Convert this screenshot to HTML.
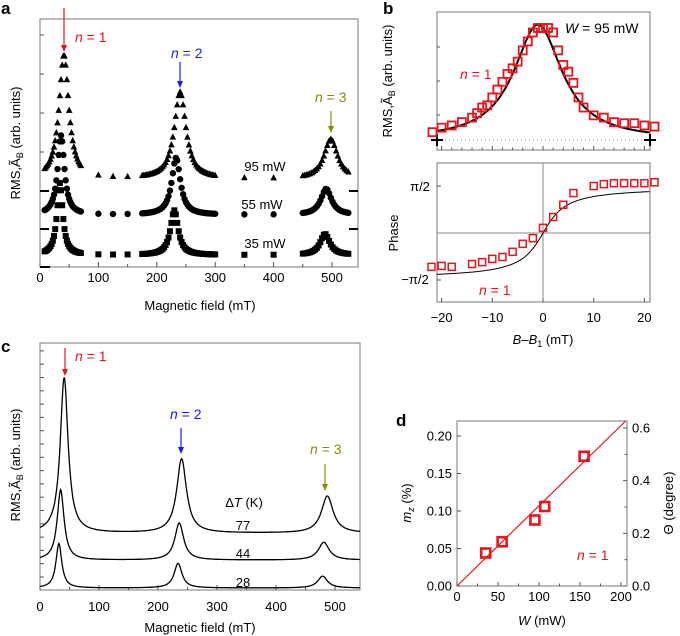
<!DOCTYPE html>
<html><head><meta charset="utf-8">
<style>
html,body{margin:0;padding:0;background:#fff;}
svg{display:block;font-family:"Liberation Sans",Arial,sans-serif;}
text{font-family:"Liberation Sans",Arial,sans-serif;}
</style></head>
<body>
<svg id="fig" width="680" height="636" viewBox="0 0 680 636" xmlns="http://www.w3.org/2000/svg">
<g font-weight="bold" font-size="17">
<text x="1" y="14">a</text>
<text x="383" y="14">b</text>
<text x="1" y="352">c</text>
<text x="396" y="426">d</text>
</g>
</svg>
<script>
// ---------- Panel a data ----------
const aSeriesNames = ["95 mW","55 mW","35 mW"];
const aBaselines = [35.5, 21, 4.8];
const aPeakCenters = [[41,240,498],[36,233,490],[34,230,488]];
const aPeakHeights = [[50,35,16],[32,23,10.5],[29,18,8.5]];
const aPeakWidths = [[10,12,14],[7,9,11],[6,8,10]];
const aFieldRanges = [[8,70,2],[100,150,25],[175,300,2.5],[350,400,50],[450,530,3]];
const aXTicks = [0,100,200,300,400,500];
// ---------- Panel b data ----------
const bFieldAmp = [-21.8,-20,-18,-16,-14,-13,-12,-11,-10,-9,-8,-7,-6,-5,-4,-3,-2,-1,0,1,2,3,4,5,6,7,8,10,12,14,16,18,20,22];
const bAmp = [0.07,0.11,0.13,0.16,0.2,0.24,0.29,0.31,0.38,0.45,0.52,0.59,0.64,0.7,0.8,0.88,0.96,1.0,1.0,1.0,0.96,0.8,0.67,0.61,0.51,0.38,0.29,0.22,0.2,0.16,0.15,0.15,0.13,0.12];
const bAmpFit = {center:-1, width:5.8};
const bFieldPhase = [-22,-20,-18,-14,-12,-10,-8,-6,-4,-2,0,2,4,6,10,12,14,16,18,20,22];
const bPhase = [-0.72,-0.7,-0.72,-0.66,-0.62,-0.55,-0.51,-0.4,-0.23,-0.11,0.11,0.34,0.6,0.85,1.0,1.04,1.06,1.06,1.06,1.06,1.08];
const bPhaseFit = {center:0, width:3.4};
const bXTicks = [-20,-10,0,10,20];
// ---------- Panel c data ----------
const cSeriesNames = ["77","44","28"];
const cBaselines = [23, 12.1, 0.8];
const cPeakCenters = [[41,240,487],[35,236,481],[32,234,479]];
const cPeakHeights = [[63,30,15],[28.5,15,7.2],[18,10,4.8]];
const cPeakWidths = [[8,10,12],[7,9,11],[6,8,10]];
const cXTicks = [0,100,200,300,400,500];
// ---------- Panel d data ----------
const dPower = [35,55,95,107,155];
const dMz = [0.044,0.059,0.088,0.106,0.173];
const dSlope = [0.00107];
const dYTicks = [0,0.05,0.10,0.15,0.20];
const dY2Ticks = [0,0.2,0.4,0.6];
const dXTicks = [0,50,100,150,200];

const NS="http://www.w3.org/2000/svg";
const svg=document.getElementById('fig');
function mk(tag,attrs,parent){const e=document.createElementNS(NS,tag);for(const k in attrs)e.setAttribute(k,attrs[k]);(parent||svg).appendChild(e);return e;}
function grp(name){const g=mk('g',{});


return g;}
function txt(p,x,y,s,size,anchor,fill,name){const t=mk('text',{x:x,y:y,'font-size':size||13,'text-anchor':anchor||'middle',fill:fill||'#000'},p);t.textContent=s;


return t;}
function lorentz(x,c,h,w){return h/(1+((x-c)/w)*((x-c)/w));}
function arrow(p,x,y1,y2,col,name){const g=mk('g',{},p);


mk('line',{x1:x,y1:y1,x2:x,y2:y2-5,stroke:col,'stroke-width':1.2},g);
mk('path',{d:`M${x-3},${y2-7}L${x+3},${y2-7}L${x},${y2}Z`,fill:col},g);}
function nlabel(p,x,y,num,col,name){const t=mk('text',{x:x,y:y,'font-size':14,fill:col},p);


const a=mk('tspan',{'font-style':'italic'},t);a.textContent='n';const b=mk('tspan',{},t);b.textContent=' = '+num;}
function ytitle(p,x,y,name){const t=mk('text',{x:0,y:0,'font-size':13,'text-anchor':'middle',transform:`translate(${x},${y}) rotate(-90)`},p);


const a=mk('tspan',{},t);a.textContent='RMS,';const b=mk('tspan',{},t);b.textContent='Ã';const c=mk('tspan',{'font-size':9,dy:3},t);c.textContent='B';const d=mk('tspan',{dy:-3},t);d.textContent=' (arb. units)';}

// ================= Panel a =================
(function(){
const g=grp('panel-a-chart');
const L=40,R=358,T=19,B=267;
const xs=v=>L+v*0.584, ys=v=>B-v*2.48;
mk('rect',{x:L,y:T,width:R-L,height:B-T,fill:'none',stroke:'#777','stroke-width':1},g);
aXTicks.forEach(v=>{mk('line',{x1:xs(v),y1:B,x2:xs(v),y2:B-5,stroke:'#555'},g);txt(g,xs(v),282,String(v),13,'middle','#000','x-tick-label-a');});
[50,150,250,350,450].forEach(v=>mk('line',{x1:xs(v),y1:B,x2:xs(v),y2:B-3,stroke:'#555'},g));
[35,74,113,152].forEach(y=>mk('line',{x1:L,y1:y,x2:L+4,y2:y,stroke:'#555'},g));
[191,229].forEach(y=>{mk('line',{x1:L,y1:y,x2:L+9,y2:y,stroke:'#000','stroke-width':2},g);mk('line',{x1:R-9,y1:y,x2:R,y2:y,stroke:'#000','stroke-width':2},g);});
mk('line',{x1:L,y1:B,x2:L+10,y2:B,stroke:'#000','stroke-width':2},g);
const fields=[];aFieldRanges.forEach(r=>{for(let f=r[0];f<=r[1]+1e-6;f+=r[2])fields.push(f);});
aSeriesNames.forEach((nm,si)=>{
 const sg=mk('g',{},g);
 
 
 fields.forEach(f=>{let v=aBaselines[si];for(let k=0;k<3;k++)v+=lorentz(f,aPeakCenters[si][k],aPeakHeights[si][k],aPeakWidths[si][k]);
  const x=xs(f),y=ys(v);let m;
  if(si===0)m=mk('path',{d:`M${x-3.3},${y+2.8}L${x+3.3},${y+2.8}L${x},${y-3.5}Z`,fill:'#000'},sg);
  else if(si===1)m=mk('circle',{cx:x,cy:y,r:3.2,fill:'#000'},sg);
  else m=mk('rect',{x:x-3,y:y-3,width:6,height:6,fill:'#000'},sg);
  
  
 });
});
txt(g,265,171,'95 mW',13,'middle','#000','series-label-95mw');
txt(g,262,209,'55 mW',13,'middle','#000','series-label-55mw');
txt(g,265,248,'35 mW',13,'middle','#000','series-label-35mw');
arrow(g,64,8,52,'#e8141c','arrow-n1');nlabel(g,75,42,1,'#e8141c','label-n1');
arrow(g,180,62,88,'#1a1aff','arrow-n2');nlabel(g,171,58,2,'#1a1aff','label-n2');
arrow(g,331,111,133,'#8a8a00','arrow-n3');nlabel(g,315,102,3,'#8a8a00','label-n3');
txt(g,200,310,'Magnetic field (mT)',13,'middle','#000','x-axis-title-a');
ytitle(g,20,143,'y-axis-title-a');
})();

// ================= Panel b top =================
(function(){
const g=grp('panel-b-amplitude-chart');
const L=437,R=650,T=12,B=150,base=140,top=28;
const xs=v=>543+v*5.07, ys=v=>base-v*(base-top);
mk('rect',{x:L,y:T,width:R-L,height:B-T,fill:'none',stroke:'#777'},g);
for(let v=-20;v<=20;v+=2)mk('line',{x1:xs(v),y1:B,x2:xs(v),y2:B-(v%10===0?4:2.5),stroke:'#555'},g);
[47,81,115].forEach(y=>mk('line',{x1:L,y1:y,x2:L+3,y2:y,stroke:'#555'},g));
mk('line',{x1:L,y1:base,x2:R,y2:base,stroke:'#888','stroke-dasharray':'1,3'},g);
[L,R].forEach(x=>{mk('line',{x1:x-6,y1:base,x2:x+6,y2:base,stroke:'#000','stroke-width':2},g);mk('line',{x1:x,y1:base-6,x2:x,y2:base+6,stroke:'#000','stroke-width':2},g);});
let d='';for(let x=-21;x<=21.001;x+=0.25){d+=(d?'L':'M')+xs(x).toFixed(1)+','+ys(1.03/(1+((x-bAmpFit.center)/bAmpFit.width)**2)).toFixed(1);}
const fit=mk('path',{d:d,fill:'none',stroke:'#000','stroke-width':2},g);


bFieldAmp.forEach((f,i)=>{const m=mk('rect',{x:xs(f)-4,y:ys(bAmp[i])-4,width:8,height:8,fill:'none',stroke:'#e8141c','stroke-width':1.8},g);

});
const w=mk('text',{x:565,y:33,'font-size':14},g);


const w1=mk('tspan',{'font-style':'italic'},w);w1.textContent='W';const w2=mk('tspan',{},w);w2.textContent=' = 95 mW';
nlabel(g,460,79,1,'#e8141c','label-n1-b');
ytitle(g,392,81,'y-axis-title-b');
})();

// ================= Panel b bottom =================
(function(){
const g=grp('panel-b-phase-chart');
const L=437,R=650,T=163,B=302,z=233,u=47;
const xs=v=>543+v*5.07, ys=v=>z-v*u;
mk('rect',{x:L,y:T,width:R-L,height:B-T,fill:'none',stroke:'#777'},g);
mk('line',{x1:xs(0),y1:T,x2:xs(0),y2:B,stroke:'#888'},g);
mk('line',{x1:L,y1:z,x2:R,y2:z,stroke:'#888'},g);
bXTicks.forEach(v=>{mk('line',{x1:xs(v),y1:B,x2:xs(v),y2:B-4,stroke:'#555'},g);txt(g,xs(v),322,v<0?'\u2212'+(-v):String(v),13,'middle','#000','x-tick-label-b');});
[1,-1].forEach(v=>mk('line',{x1:L,y1:ys(v),x2:L+4,y2:ys(v),stroke:'#555'},g));
txt(g,420,191,'\u03c0/2',13,'middle','#000','y-tick-label-pi-half');
txt(g,415,284,'\u2212\u03c0/2',13,'middle','#000','y-tick-label-neg-pi-half');
let d='';for(let x=-21;x<=21.001;x+=0.25){d+=(d?'L':'M')+xs(x).toFixed(1)+','+ys(0.98*2/Math.PI*Math.atan((x-bPhaseFit.center)/bPhaseFit.width)).toFixed(1);}
const fit=mk('path',{d:d,fill:'none',stroke:'#000','stroke-width':1},g);


bFieldPhase.forEach((f,i)=>{const m=mk('rect',{x:xs(f)-3.5,y:ys(bPhase[i])-3.5,width:7,height:7,fill:'none',stroke:'#e8141c','stroke-width':1.5},g);

});
nlabel(g,479,295,1,'#e8141c','label-n1-phase');
const p=mk('text',{x:0,y:0,'font-size':13,'text-anchor':'middle',transform:'translate(398,233) rotate(-90)'},g);p.textContent='Phase';


const t=mk('text',{x:543,y:344,'font-size':13,'text-anchor':'middle'},g);


const a=mk('tspan',{'font-style':'italic'},t);a.textContent='B';const b=mk('tspan',{},t);b.textContent='\u2013';const c=mk('tspan',{'font-style':'italic'},t);c.textContent='B';const e=mk('tspan',{'font-size':9,dy:3},t);e.textContent='1';const f=mk('tspan',{dy:-3},t);f.textContent=' (mT)';
})();

// ================= Panel c =================
(function(){
const g=grp('panel-c-chart');
const L=40,R=360,T=343,B=590;
const xs=v=>L+v*0.59, ys=v=>B-v*2.47;
mk('rect',{x:L,y:T,width:R-L,height:B-T,fill:'none',stroke:'#777'},g);
cXTicks.forEach(v=>{mk('line',{x1:xs(v),y1:B,x2:xs(v),y2:B-5,stroke:'#555'},g);txt(g,xs(v),611,String(v),13,'middle','#000','x-tick-label-c');});
[50,150,250,350,450].forEach(v=>mk('line',{x1:xs(v),y1:B,x2:xs(v),y2:B-3,stroke:'#555'},g));
for(let y=B-13;y>T;y-=13.3)mk('line',{x1:L,y1:y,x2:L+4,y2:y,stroke:'#555'},g);
cSeriesNames.forEach((nm,si)=>{let d='';
 for(let f=0;f<=542;f+=1){let v=cBaselines[si];for(let k=0;k<3;k++)v+=lorentz(f,cPeakCenters[si][k],cPeakHeights[si][k],cPeakWidths[si][k]);d+=(d?'L':'M')+xs(f).toFixed(1)+','+ys(v).toFixed(1);}
 const p=mk('path',{d:d,fill:'none',stroke:'#000','stroke-width':1.3},g);
 
 
});
const dt=mk('text',{x:244,y:507,'font-size':13,'text-anchor':'middle'},g);


const d1=mk('tspan',{},dt);d1.textContent='\u0394';const d2=mk('tspan',{'font-style':'italic'},dt);d2.textContent='T';const d3=mk('tspan',{},dt);d3.textContent=' (K)';
txt(g,243,530,'77',13,'middle','#000','series-label-77');
txt(g,243,558,'44',13,'middle','#000','series-label-44');
txt(g,243,587,'28',13,'middle','#000','series-label-28');
arrow(g,65,348,376,'#e8141c','arrow-n1-c');nlabel(g,75,361,1,'#e8141c','label-n1-c');
arrow(g,181,428,454,'#1a1aff','arrow-n2-c');nlabel(g,170,419,2,'#1a1aff','label-n2-c');
arrow(g,325,464,491,'#8a8a00','arrow-n3-c');nlabel(g,310,454,3,'#8a8a00','label-n3-c');
txt(g,200,632,'Magnetic field (mT)',13,'middle','#000','x-axis-title-c');
ytitle(g,20,465,'y-axis-title-c');
})();

// ================= Panel d =================
(function(){
const g=grp('panel-d-chart');
const L=457,R=627,T=421,B=586;
const xs=v=>L+v*0.82, ys=v=>B-v*750, ys2=v=>B-v*263.3;
mk('rect',{x:L,y:T,width:R-L,height:B-T,fill:'none',stroke:'#777'},g);
dXTicks.forEach(v=>{mk('line',{x1:xs(v),y1:B,x2:xs(v),y2:B-4,stroke:'#555'},g);txt(g,xs(v),601,String(v),13,'middle','#000','x-tick-label-d');});
[25,75,125,175].forEach(v=>mk('line',{x1:xs(v),y1:B,x2:xs(v),y2:B-2.5,stroke:'#555'},g));
dYTicks.forEach(v=>{mk('line',{x1:L,y1:ys(v),x2:L+4,y2:ys(v),stroke:'#555'},g);txt(g,452,ys(v)+4.5,v.toFixed(2),13,'end','#000','y-tick-label-d');});
dY2Ticks.forEach(v=>{mk('line',{x1:R,y1:ys2(v),x2:R-4,y2:ys2(v),stroke:'#555'},g);txt(g,632,ys2(v)+4.5,v.toFixed(1),13,'start','#000','y2-tick-label-d');});
[0.1,0.3,0.5].forEach(v=>mk('line',{x1:R,y1:ys2(v),x2:R-2.5,y2:ys2(v),stroke:'#555'},g));
const xe=(0.22)/dSlope[0];
const ln=mk('line',{x1:xs(0),y1:ys(0),x2:xs(Math.min(xe,207)),y2:ys(dSlope[0]*Math.min(xe,207)),stroke:'#e8141c','stroke-width':1.2},g);


dPower.forEach((w,i)=>{const m=mk('rect',{x:xs(w)-4.5,y:ys(dMz[i])-4.5,width:9,height:9,fill:'none',stroke:'#e8141c','stroke-width':2.6},g);

});
nlabel(g,577,560,1,'#e8141c','label-n1-d');
const yt=mk('text',{x:0,y:0,'font-size':13,'text-anchor':'middle',transform:'translate(411,503) rotate(-90)'},g);


const y1=mk('tspan',{'font-style':'italic'},yt);y1.textContent='m';const y2=mk('tspan',{'font-size':9,dy:3,'font-style':'italic'},yt);y2.textContent='z';const y3=mk('tspan',{dy:-3},yt);y3.textContent=' (%)';
const y2t=mk('text',{x:0,y:0,'font-size':13,'text-anchor':'middle',transform:'translate(673,503) rotate(-90)'},g);y2t.textContent='\u0398 (degree)';


const xt=mk('text',{x:542,y:625,'font-size':13,'text-anchor':'middle'},g);


const x1=mk('tspan',{'font-style':'italic'},xt);x1.textContent='W';const x2=mk('tspan',{},xt);x2.textContent=' (mW)';
})();
</script>
</body></html>
